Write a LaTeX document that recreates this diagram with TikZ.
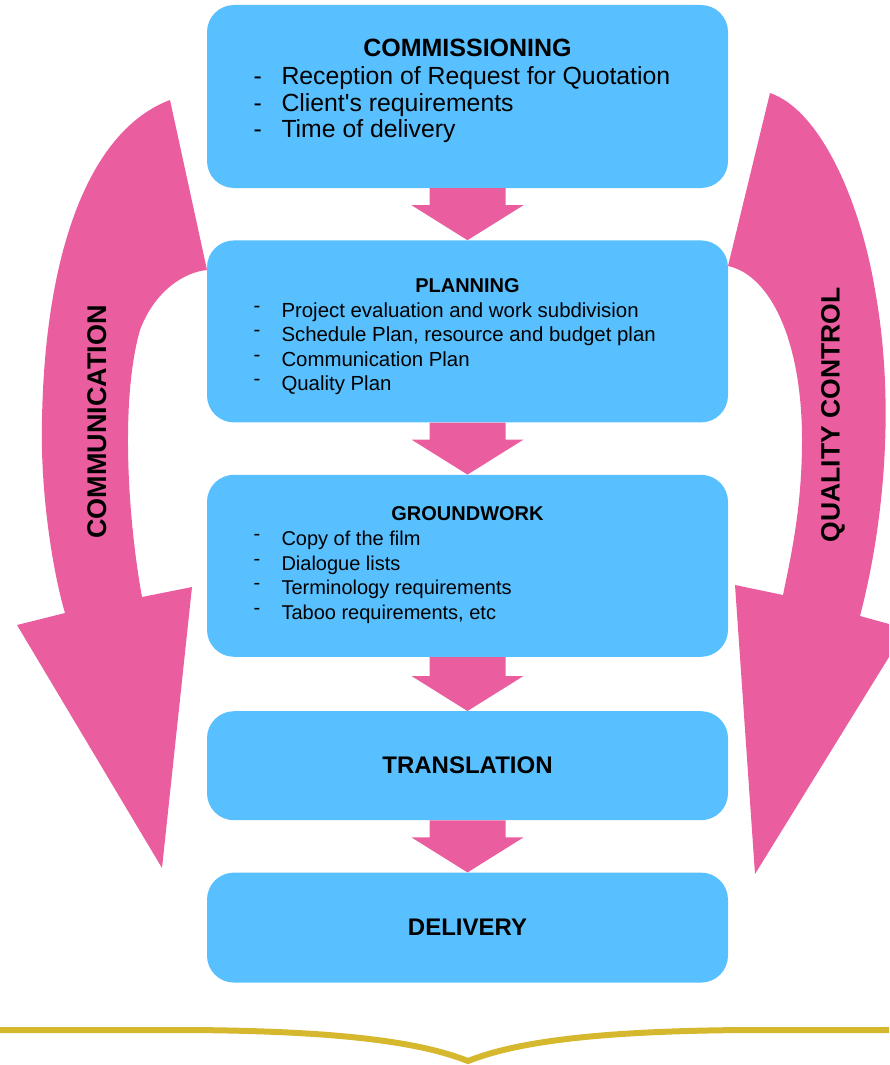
\documentclass[tikz,border=0pt]{standalone}
\usepackage{fontspec}
\setmainfont{Liberation Sans}
\usetikzlibrary{positioning, calc}

\definecolor{boxblue}{RGB}{88,192,255}
\definecolor{flowpink}{RGB}{234,94,160}
\definecolor{linegold}{RGB}{213,184,46}

\tikzset{
  stage/.style={fill=boxblue, rounded corners=27pt, minimum width=521pt, inner sep=0pt},
  head/.style={font=\bfseries\fontsize{#1}{#1}\selectfont, inner sep=0pt, anchor=base},
  entry/.style={font=\fontsize{#1}{#1}\selectfont, inner sep=0pt, anchor=base west},
  bandlabel/.style={font=\bfseries\fontsize{#1}{#1}\selectfont, inner sep=0pt, rotate=90},
}

% block arrow between two stages
\newcommand{\flowarrow}[2]{%
  \fill[flowpink] ($(#1.south)+(-38,0)$) -- ($(#1.south)+(38,0)$)
    -- ($(#2.north)+(38,-35)$) -- ($(#2.north)+(56,-35)$) -- (#2.north)
    -- ($(#2.north)+(-56,-35)$) -- ($(#2.north)+(-38,-35)$) -- cycle;}

\begin{document}
\begin{tikzpicture}[x=1pt, y=-1pt, node distance=52pt]
\useasboundingbox (0,0) rectangle (889,1065);

% side arrows
\fill[flowpink] (170,100) .. controls (90,130) and (45,250) .. (42,420)
  .. controls (40,500) and (55,580) .. (65,613) -- (17,625) -- (162,868)
  -- (192,587) -- (142,597) .. controls (128,520) and (120,400) .. (140,330)
  .. controls (155,290) and (185,272) .. (207,270) -- cycle;
\fill[flowpink] (770,93) -- (728,266) .. controls (770,275) and (802,340) .. (802,440)
  .. controls (802,510) and (790,560) .. (783,595) -- (735,585) -- (755,874)
  -- (889,657) -- (889,624) -- (860,616) .. controls (885,520) and (895,400) .. (875,290)
  .. controls (860,200) and (820,110) .. (770,93) -- cycle;
\node[bandlabel=27] (comm) at (97,422) {COMMUNICATION};
\node[bandlabel=26.5] (qual) at (833,415) {QUALITY CONTROL};

% stages
\node[stage, minimum height=183pt] (commis) at (467.5,96.5) {};
\node[stage, minimum height=182pt, below=of commis] (plan) {};
\node[stage, minimum height=182pt, below=of plan] (ground) {};
\node[stage, minimum height=109pt, below=54pt of ground, font=\bfseries\fontsize{24}{24}\selectfont] (transl) {TRANSLATION};
\node[stage, minimum height=110pt, below=of transl, font=\bfseries\fontsize{24}{24}\selectfont] (deliv) {DELIVERY};

\node[head=25] (commishead) at ($(commis.north)+(0,52)$) {COMMISSIONING};
\foreach \entrytext [count=\i from 0] in {Reception of Request for Quotation, Client\textquotesingle s requirements, Time of delivery}
  \node[entry=24.8] at ($(commis.north west)+(46.5,80+26.5*\i)$) {\makebox[28pt][l]{-}\entrytext};

\node[head=20] (planhead) at ($(plan.north)+(0,52)$) {PLANNING};
\foreach \entrytext [count=\i from 0] in {Project evaluation and work subdivision, {Schedule Plan, resource and budget plan}, Communication Plan, Quality Plan}
  \node[entry=20.4] at ($(plan.north west)+(46.5,77+24.5*\i)$) {\makebox[28pt][l]{\raisebox{5pt}{-}}\entrytext};

\node[head=20] (groundhead) at ($(ground.north)+(0,46)$) {GROUNDWORK};
\foreach \entrytext [count=\i from 0] in {Copy of the film, Dialogue lists, Terminology requirements, {Taboo requirements, etc}}
  \node[entry=20] at ($(ground.north west)+(46.5,71+24.5*\i)$) {\makebox[28pt][l]{\raisebox{5pt}{-}}\entrytext};

% flow arrows
\flowarrow{commis}{plan}
\flowarrow{plan}{ground}
\flowarrow{ground}{transl}
\flowarrow{transl}{deliv}

% bottom line
\draw[linegold, line width=6pt] (0,1030) -- (190,1030) .. controls (340,1031) and (420,1042) .. (468,1061)
  .. controls (516,1042) and (596,1031) .. (746,1030) -- (889,1030);
\end{tikzpicture}
\end{document}
